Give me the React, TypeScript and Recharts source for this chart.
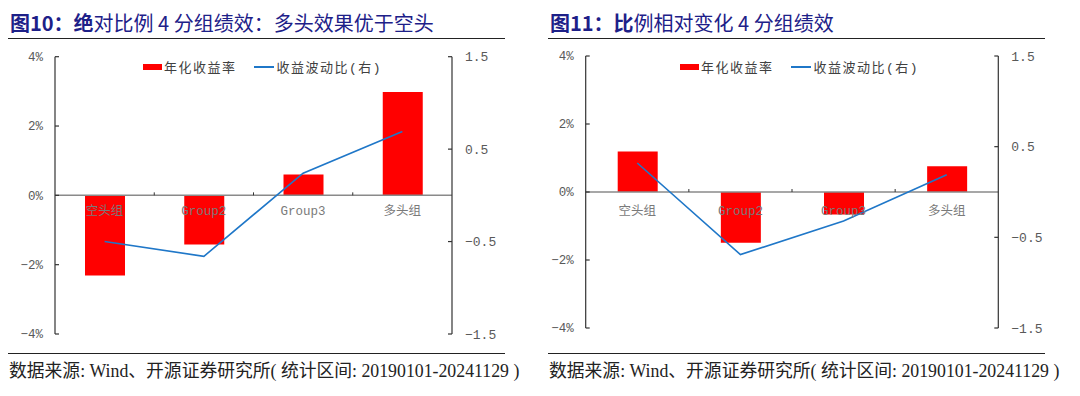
import React from "react";
import {
  ComposedChart,
  Bar,
  Line,
  XAxis,
  YAxis,
  ReferenceLine,
  Legend,
} from "recharts";

const groups = ["空头组", "Group2", "Group3", "多头组"];

// 图10 绝对比例
const absReturn = [-2.31, -1.42, 0.6, 2.98];
const absRatio = [-0.5, -0.66, 0.24, 0.69];

// 图11 比例相对变化
const relReturn = [1.19, -1.49, -0.66, 0.76];
const relRatio = [0.32, -0.69, -0.32, 0.19];

const leftTicks = [-4, -2, 0, 2, 4];
const rightTicks = [-1.5, -0.5, 0.5, 1.5];

const titleA = "图10：绝对比例 4 分组绩效：多头效果优于空头";
const titleB = "图11：比例相对变化 4 分组绩效";
const source = "数据来源: Wind、开源证券研究所( 统计区间: 20190101-20241129 )";
const barName = "年化收益率";
const lineName = "收益波动比(右)";

const CHART_W = 520;
const CHART_H = 350;
const AXIS_W = 45;
const MONO = '"Liberation Mono", "Noto Sans CJK SC", monospace';
const CJK = '"Noto Sans CJK SC", "Liberation Serif", serif';
const AXIS_COLOR = "#333333";

const minus = (s: string) => s.replace("-", "\u2212");

function makeData(ret: number[], ratio: number[]) {
  return groups.map((g, i) => ({ name: g, ret: ret[i], ratio: ratio[i] }));
}

interface Geo {
  left: number;
  right: number;
  top: number;
  bottom: number;
  labelDy: number;
  legendLeft: number;
}

function GroupTick(props: any) {
  const { x, payload, index, geo } = props;
  const zeroY = (geo.top + geo.bottom) / 2;
  const band = (geo.right - geo.left) / groups.length;
  return (
    <g>
      {index > 0 && (
        <line x1={x - band / 2} x2={x - band / 2} y1={zeroY - 3} y2={zeroY} stroke={AXIS_COLOR} strokeWidth={1} />
      )}
      <text
        x={x}
        y={zeroY + geo.labelDy}
        textAnchor="middle"
        fill="#7a7a7a"
        fontSize={12.5}
        fontFamily={MONO}
      >
        {payload.value}
      </text>
    </g>
  );
}

function LegendBox() {
  return (
    <div style={{ display: "flex", alignItems: "center", fontFamily: MONO, fontSize: 13, color: "#404040", letterSpacing: 1.5, whiteSpace: "nowrap" }}>
      <span style={{ display: "inline-block", width: 19, height: 6, background: "#ff0000", marginRight: 2 }} />
      <span>{barName}</span>
      <span style={{ display: "inline-block", width: 20, height: 2, background: "#1f77c8", marginLeft: 17, marginRight: 3 }} />
      <span>{lineName}</span>
    </div>
  );
}

function Panel({ x, title, ret, ratio, geo }: { x: number; title: string; ret: number[]; ratio: number[]; geo: Geo }) {
  const data = makeData(ret, ratio);
  const margin = {
    top: geo.top,
    bottom: CHART_H - geo.bottom - 10,
    left: geo.left - AXIS_W,
    right: CHART_W - geo.right - AXIS_W,
  };
  const head = title.slice(0, 5);
  const rest = title.slice(5);
  return (
    <div style={{ position: "absolute", left: x, top: 0, width: 540, height: 396 }}>
      <div
        style={{
          position: "absolute",
          left: 10,
          top: 11,
          fontSize: 20,
          lineHeight: "24px",
          color: "#1d2088",
          fontFamily: CJK,
          whiteSpace: "nowrap",
        }}
      >
        <span style={{ fontWeight: 700 }}>{head}</span>
        {rest}
      </div>
      <div style={{ position: "absolute", left: 8, top: 38, width: 497, height: 1, background: "#222" }} />
      <div style={{ position: "absolute", left: 0, top: 0 }}>
        <ComposedChart width={CHART_W} height={CHART_H} data={data} margin={margin}>
          <XAxis
            dataKey="name"
            axisLine={false}
            tickLine={false}
            height={10}
            interval={0}
            tick={<GroupTick geo={geo} />}
          />
          <YAxis
            yAxisId="left"
            width={AXIS_W}
            domain={[-4, 4]}
            ticks={leftTicks}
            interval={0}
            axisLine={{ stroke: AXIS_COLOR, strokeWidth: 1.2 }}
            tickLine={{ stroke: AXIS_COLOR, strokeWidth: 1.2 }}
            tickSize={-4}
            tickMargin={16}
            tick={{ fill: "#595959", fontSize: 12.5, fontFamily: MONO }}
            tickFormatter={(v) => minus(`${v}%`)}
          />
          <YAxis
            yAxisId="right"
            orientation="right"
            width={AXIS_W}
            domain={[-1.5, 1.5]}
            ticks={rightTicks}
            interval={0}
            axisLine={{ stroke: AXIS_COLOR, strokeWidth: 1.2 }}
            tickLine={{ stroke: AXIS_COLOR, strokeWidth: 1.2 }}
            tickSize={-4}
            tickMargin={17}
            tick={{ fill: "#595959", fontSize: 13, fontFamily: MONO }}
            tickFormatter={(v) => minus(v.toFixed(1))}
          />
          <Legend
            verticalAlign="middle"
            align="center"
            content={() => <LegendBox />}
            wrapperStyle={{ top: 57, left: geo.legendLeft, width: "auto" }}
          />
          <Bar yAxisId="left" dataKey="ret" name={barName} fill="#ff0000" barSize={40} isAnimationActive={false} />
          <ReferenceLine yAxisId="left" y={0} stroke="#8a8a8a" strokeWidth={1.5} />
          <Line
            yAxisId="right"
            dataKey="ratio"
            name={lineName}
            type="linear"
            stroke="#1f77c8"
            strokeWidth={1.6}
            dot={false}
            isAnimationActive={false}
          />
        </ComposedChart>
      </div>
      <div style={{ position: "absolute", left: 8, top: 353, width: 497, height: 1, background: "#222" }} />
      <div
        style={{
          position: "absolute",
          left: 9,
          top: 361,
          fontSize: 17.8,
          lineHeight: "20px",
          color: "#222",
          fontFamily: '"Liberation Serif", "Noto Sans CJK SC", serif',
          whiteSpace: "nowrap",
        }}
      >
        {source}
      </div>
    </div>
  );
}

const geoA: Geo = { left: 55, right: 452, top: 56.7, bottom: 334, labelDy: 20, legendLeft: 143 };
const geoB: Geo = { left: 45.7, right: 458.3, top: 56, bottom: 328, labelDy: 23, legendLeft: 140 };

export default function App() {
  return (
    <div style={{ position: "absolute", left: 0, top: 0, width: 1080, height: 396, background: "#fff", overflow: "hidden" }}>
      <Panel x={0} title={titleA} ret={absReturn} ratio={absRatio} geo={geoA} />
      <Panel x={540} title={titleB} ret={relReturn} ratio={relRatio} geo={geoB} />
    </div>
  );
}
